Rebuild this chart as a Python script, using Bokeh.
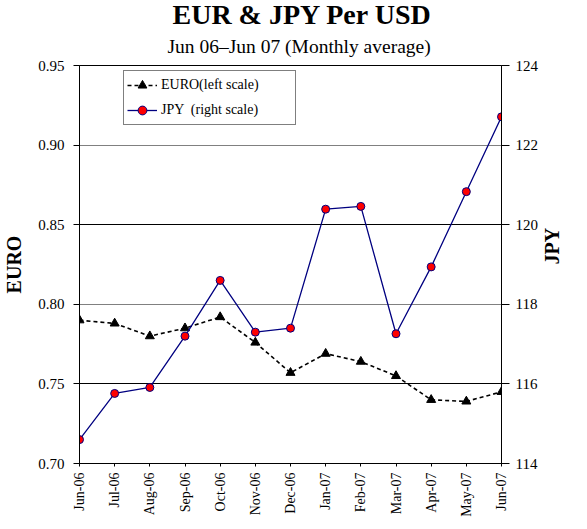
import math
from bokeh.plotting import figure
from bokeh.models import (Range1d, LinearAxis, FixedTicker, Grid, Legend, LegendItem,
                          Title, NumeralTickFormatter)
from bokeh.embed import file_html
from bokeh.resources import INLINE

months = ["Jun-06", "Jul-06", "Aug-06", "Sep-06", "Oct-06", "Nov-06", "Dec-06",
          "Jan-07", "Feb-07", "Mar-07", "Apr-07", "May-07", "Jun-07"]
euro = [0.790, 0.788, 0.780, 0.785, 0.792, 0.776, 0.757, 0.769, 0.764, 0.755, 0.740, 0.739, 0.745]
jpy = [114.6, 115.76, 115.91, 117.2, 118.6, 117.3, 117.4, 120.39, 120.46, 117.26, 118.94, 120.83, 122.71]
left_ticks = [0.70, 0.75, 0.80, 0.85, 0.90, 0.95]
right_ticks = [114, 116, 118, 120, 122, 124]

SERIF = "Liberation Serif"
xs = list(range(len(months)))

FW, FH = 422, 398
p = figure(width=571, height=513, frame_width=FW, frame_height=FH,
           output_backend="svg", toolbar_location=None,
           x_range=Range1d(0, len(months) - 1), y_range=Range1d(0.70, 0.95),
           min_border_left=78, min_border_right=71, min_border_top=65, min_border_bottom=50,
           background_fill_color="white", border_fill_color="white",
           outline_line_color="black", outline_line_width=1)
p.title = None
p.extra_y_ranges = {"jpy": Range1d(114, 124)}

# x axis
xa = p.xaxis[0]
xa.ticker = FixedTicker(ticks=xs)
xa.major_label_overrides = {i: m for i, m in enumerate(months)}
xa.major_label_orientation = math.pi / 2
xa.major_tick_out = 3
xa.major_label_standoff = 6
xa.major_label_text_font_size = "14px"

# left axis
ya = p.yaxis[0]
ya.ticker = FixedTicker(ticks=left_ticks)
ya.formatter = NumeralTickFormatter(format="0.00")
ya.axis_label = "EURO"
ya.major_tick_out = 6
ya.major_label_standoff = 9
ya.axis_label_standoff = 10
ya.major_label_text_font_size = "15px"

# right axis
ra = LinearAxis(y_range_name="jpy", ticker=FixedTicker(ticks=right_ticks), axis_label="JPY")
ra.major_tick_out = 8
ra.major_label_standoff = 6
ra.axis_label_standoff = 11
ra.major_label_text_font_size = "15px"
ra.axis_label_orientation = math.pi / 2
p.add_layout(ra, "right")

for ax in [xa, ya, ra]:
    ax.minor_tick_line_color = None
    ax.major_tick_in = 0
    ax.major_label_text_font = SERIF
    ax.major_label_text_color = "black"
    ax.axis_label_text_font = SERIF
    ax.axis_label_text_font_size = "20px"
    ax.axis_label_text_font_style = "bold"
    ax.axis_label_text_color = "black"
    ax.axis_line_color = "black"
    ax.major_tick_line_color = "black"

# grids
p.xgrid.visible = False
p.ygrid.ticker = FixedTicker(ticks=[0.80, 0.90])
p.ygrid.grid_line_color = "#808080"
p.ygrid.grid_line_width = 1
g2 = Grid(dimension=1, ticker=FixedTicker(ticks=[0.75, 0.85]), grid_line_color="black", grid_line_width=1)
p.add_layout(g2)

# series
eline = p.line(xs, euro, line_color="black", line_width=1.6, line_dash="4 3")
emark = p.scatter(xs, euro, marker="triangle", size=9, fill_color="black", line_color="black")
jline = p.line(xs, jpy, y_range_name="jpy", line_color="#000080", line_width=1.3)
jmark = p.scatter(xs, jpy, y_range_name="jpy", marker="circle", size=8,
                  fill_color="#ff0000", line_color="#000080", line_width=1)

legend = Legend(items=[LegendItem(label="EURO(left scale)", renderers=[eline, emark]),
                       LegendItem(label="JPY  (right scale)", renderers=[jline, jmark])],
                location=(44, 338), border_line_color="black", border_line_width=1,
                background_fill_alpha=1, label_text_font=SERIF, label_text_font_size="14px",
                label_text_color="black", glyph_width=30, label_standoff=4, label_width=131,
                padding=3, spacing=3, margin=0, label_height=22, glyph_height=22)
p.add_layout(legend, "center")

p.add_layout(Title(text="Jun 06\u2013Jun 07 (Monthly average)", align="left", offset=88,
                   text_font=SERIF, text_font_size="19.5px", text_font_style="normal",
                   text_color="black", standoff=17), "above")
p.add_layout(Title(text="EUR & JPY Per USD", align="left", offset=93,
                   text_font=SERIF, text_font_size="28px", text_font_style="bold",
                   text_color="black", standoff=-8), "above")

open("out.html", "w").write(file_html(p, INLINE))
